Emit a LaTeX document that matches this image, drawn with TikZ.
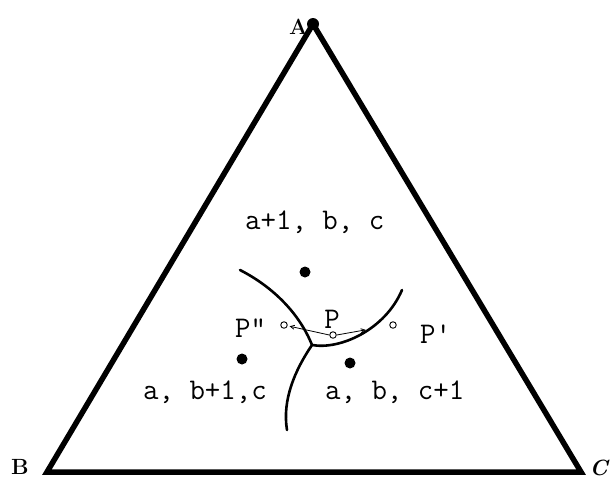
\documentclass[tikz,border=0pt]{standalone}
\usepackage{tikz}
\usetikzlibrary{arrows.meta}

\begin{document}
\begin{tikzpicture}[
  x=1pt, y=-1pt,
  edge/.style={line width=5.5pt, line join=miter},
  arc/.style={line width=2.6pt, line cap=round},
  site/.style={circle, fill, inner sep=0pt, minimum size=11pt},
  probe/.style={circle, draw, line width=0.9pt, inner sep=0pt, minimum size=6.5pt},
  lbl/.style={font=\fontsize{30}{30}\selectfont\ttfamily, inner sep=0pt},
  corner/.style={font=\fontsize{22}{22}\selectfont\rmfamily\bfseries, inner sep=0pt},
  move/.style={-{Straight Barb[length=4pt, width=4pt]}, line width=0.8pt},
]
\useasboundingbox (0,0) rectangle (615,480);

% corners of the triangle
\coordinate (A) at (313,24);
\coordinate (B) at (47,472);
\coordinate (C) at (581,472);
\draw[edge] (A) -- (B) -- (C) -- cycle;
\node[site, minimum size=12pt] (top) at (A) {};

\node[corner, anchor=base east] (labA) at (308,34) {A};
\node[corner, anchor=base west] (labB) at (11,474) {B};
\node[corner, anchor=base east] (labC) at (608,475) {\itshape C};

% lattice sites
\node[site] (s1) at (305,272) {};
\node[site] (s2) at (242,359) {};
\node[site] (s3) at (350,363) {};

\node[lbl, anchor=base west] (t1) at (245,229) {a+1, b, c};
\node[lbl, anchor=base west] (t2) at (143,399) {a, b+1,c};
\node[lbl, anchor=base west] (t3) at (325,399) {a, b, c+1};

% cell boundaries
\coordinate (J) at (312,345);
\draw[arc] (240,270) .. controls (275,288) and (300,315) .. (J);
\draw[arc] (J) .. controls (340,350) and (385,330) .. (402,290);
\draw[arc] (J) .. controls (295,370) and (282,400) .. (287,430);

% test points
\node[probe] (P) at (333,335) {};
\node[probe] (Pdd) at (284,325) {};
\node[probe] (Pd) at (393,325) {};

\node[lbl, anchor=base] (labP) at (332,328) {P};
\node[lbl, anchor=base west] (labPdd) at (235,337) {P"};
\node[lbl, anchor=base west] (labPd) at (420,343) {P'};

\draw[move, shorten >=2pt] (P.west) -- (Pdd);
\draw[move, shorten >=24pt] (P.east) -- (Pd);

\end{tikzpicture}
\end{document}
